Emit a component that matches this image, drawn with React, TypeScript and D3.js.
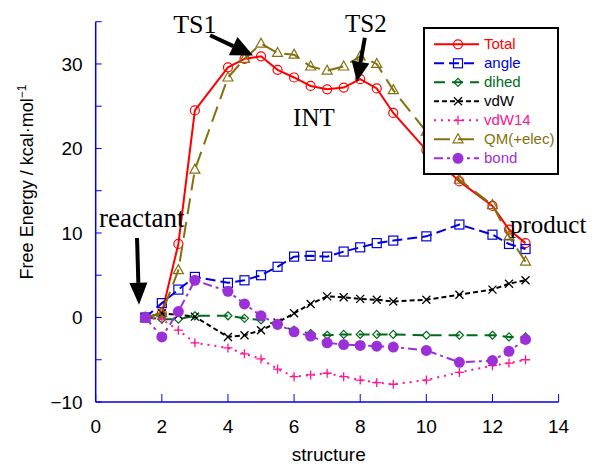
import { useEffect, useRef } from 'react';
import * as d3 from 'd3';

// structure coordinate of each point
const structures = [1.5, 2, 2.5, 3, 4, 4.5, 5, 5.5, 6, 6.5, 7, 7.5, 8, 8.5, 9, 10, 11, 12, 12.5, 13];

const total = [0, 0.5, 8.7, 24.5, 29.6, 30.6, 30.9, 29.3, 28.4, 27.4, 27.0, 27.2, 28.2, 27.1, 24.2, 19.8, 16.1, 13.2, 10.4, 8.8];
const angle = [0, 1.7, 3.3, 4.8, 4.1, 4.4, 5.0, 6.0, 7.2, 7.3, 7.2, 7.8, 8.3, 8.8, 9.1, 9.6, 11.0, 9.8, 8.7, 8.1];
const dihed = [0, -0.2, -0.2, 0.2, 0.2, -0.1, -0.3, -0.9, -1.5, -1.9, -2.1, -2.0, -2.0, -2.0, -2.0, -2.1, -2.1, -2.1, -2.3, -2.3];
const vdw = [0, 0.5, 0.3, 0.1, -2.3, -2.1, -1.5, -0.6, 0.5, 1.6, 2.5, 2.4, 2.2, 2.1, 1.9, 2.1, 2.7, 3.3, 4.0, 4.4];
const vdw14 = [0, -0.2, -1.5, -3.0, -3.6, -4.3, -4.9, -6.1, -7.0, -6.8, -6.6, -7.0, -7.4, -7.7, -7.9, -7.4, -6.5, -5.7, -5.4, -5.0];
const qm = [0, 0.5, 5.6, 17.5, 28.4, 30.6, 32.4, 31.3, 31.1, 29.7, 29.2, 29.7, 30.9, 30.0, 26.9, 22.0, 16.3, 13.3, 9.6, 6.6];
const bond = [0, -2.3, 0.7, 4.4, 3.1, 1.6, 0.2, -0.8, -1.7, -2.2, -3.0, -3.2, -3.3, -3.4, -3.5, -3.9, -5.3, -5.1, -4.0, -2.6];

const seriesNames = ['Total', 'angle', 'dihed', 'vdW', 'vdW14', 'QM(+elec)', 'bond'];
const seriesValues = [total, angle, dihed, vdw, vdw14, qm, bond];

const xTicks = [0, 2, 4, 6, 8, 10, 12, 14];
const yTickLabels = [-10, 0, 10, 20, 30];
const yTickMarks = [-10, -5, 0, 5, 10, 15, 20, 25, 30, 35];

const styles = {
  Total: { color: '#ff0000', dash: null, width: 2, marker: 'circle' },
  angle: { color: '#0000dd', dash: '10,5', width: 2, marker: 'square' },
  dihed: { color: '#006a1a', dash: '11,7', width: 2, marker: 'diamond' },
  vdW: { color: '#000000', dash: '5,3', width: 2, marker: 'x' },
  vdW14: { color: '#ff1493', dash: '2,5', width: 2, marker: 'plus' },
  'QM(+elec)': { color: '#857010', dash: '16,8', width: 2, marker: 'triangle' },
  bond: { color: '#9b30d9', dash: '9,4,3,4', width: 2, marker: 'dot' },
};

const sans = '"Liberation Sans", Arial, sans-serif';
const serif = '"Liberation Serif", "Times New Roman", serif';

function drawMarker(g, kind, cx, cy, color) {
  if (kind === 'circle') {
    g.append('circle').attr('cx', cx).attr('cy', cy).attr('r', 4.5)
      .attr('fill', 'none').attr('stroke', color).attr('stroke-width', 1.2);
  } else if (kind === 'square') {
    g.append('rect').attr('x', cx - 4.5).attr('y', cy - 4.5).attr('width', 9).attr('height', 9)
      .attr('fill', 'none').attr('stroke', color).attr('stroke-width', 1.2);
  } else if (kind === 'diamond') {
    g.append('path').attr('d', `M${cx},${cy - 4}L${cx + 4},${cy}L${cx},${cy + 4}L${cx - 4},${cy}Z`)
      .attr('fill', 'none').attr('stroke', color).attr('stroke-width', 1.2);
  } else if (kind === 'x') {
    g.append('path').attr('d', `M${cx - 4},${cy - 4}L${cx + 4},${cy + 4}M${cx - 4},${cy + 4}L${cx + 4},${cy - 4}`)
      .attr('stroke', color).attr('stroke-width', 1.3);
  } else if (kind === 'plus') {
    g.append('path').attr('d', `M${cx - 4.5},${cy}L${cx + 4.5},${cy}M${cx},${cy - 4.5}L${cx},${cy + 4.5}`)
      .attr('stroke', color).attr('stroke-width', 1.3);
  } else if (kind === 'triangle') {
    g.append('path').attr('d', `M${cx},${cy - 5.5}L${cx + 5},${cy + 3.5}L${cx - 5},${cy + 3.5}Z`)
      .attr('fill', 'none').attr('stroke', color).attr('stroke-width', 1.2);
  } else if (kind === 'dot') {
    g.append('circle').attr('cx', cx).attr('cy', cy).attr('r', 5.5).attr('fill', color);
  }
}

function drawArrow(svg, x1, y1, x2, y2, headLen, headW) {
  const dx = x2 - x1;
  const dy = y2 - y1;
  const len = Math.sqrt(dx * dx + dy * dy);
  const ux = dx / len;
  const uy = dy / len;
  const bx = x2 - ux * headLen;
  const by = y2 - uy * headLen;
  svg.append('line').attr('x1', x1).attr('y1', y1).attr('x2', bx).attr('y2', by)
    .attr('stroke', '#000').attr('stroke-width', 4);
  svg.append('path')
    .attr('d', `M${x2},${y2}L${bx - uy * headW / 2},${by + ux * headW / 2}L${bx + uy * headW / 2},${by - ux * headW / 2}Z`)
    .attr('fill', '#000');
}

const App = () => {
  const svgRef = useRef();

  useEffect(() => {
    const svg = d3.select(svgRef.current);
    svg.selectAll('*').remove();

    const xScale = d3.scaleLinear().domain([0, 14]).range([95.7, 558.6]);
    const yScale = d3.scaleLinear().domain([-10, 35]).range([402, 21.7]);

    // Axes (left and bottom only, ticks pointing inward)
    const axisColor = '#0000ee';
    svg.append('line')
      .attr('x1', xScale(0)).attr('x2', xScale(0))
      .attr('y1', yScale(35)).attr('y2', yScale(-10))
      .attr('stroke', axisColor).attr('stroke-width', 1.5);
    svg.append('line')
      .attr('x1', xScale(0)).attr('x2', xScale(14))
      .attr('y1', yScale(-10)).attr('y2', yScale(-10))
      .attr('stroke', axisColor).attr('stroke-width', 1.5);

    yTickMarks.forEach((v) => {
      svg.append('line')
        .attr('x1', xScale(0)).attr('x2', xScale(0) + 6)
        .attr('y1', yScale(v)).attr('y2', yScale(v))
        .attr('stroke', axisColor).attr('stroke-width', 1);
    });
    xTicks.forEach((v) => {
      svg.append('line')
        .attr('x1', xScale(v)).attr('x2', xScale(v))
        .attr('y1', yScale(-10)).attr('y2', yScale(-10) - 8)
        .attr('stroke', axisColor).attr('stroke-width', 1);
    });

    yTickLabels.forEach((v) => {
      svg.append('text')
        .attr('x', xScale(0) - 13).attr('y', yScale(v) + 7)
        .attr('text-anchor', 'end')
        .attr('font-family', sans).attr('font-size', 19)
        .attr('fill', '#000')
        .text(v < 0 ? `\u2212${Math.abs(v)}` : `${v}`);
    });
    xTicks.forEach((v) => {
      svg.append('text')
        .attr('x', xScale(v)).attr('y', yScale(-10) + 31)
        .attr('text-anchor', 'middle')
        .attr('font-family', sans).attr('font-size', 19)
        .attr('fill', '#000')
        .text(v);
    });

    svg.append('text')
      .attr('x', xScale(7.05)).attr('y', 461)
      .attr('text-anchor', 'middle')
      .attr('font-family', sans).attr('font-size', 19)
      .attr('fill', '#000')
      .text('structure');

    const yLabel = svg.append('text')
      .attr('transform', `translate(33, 182) rotate(-90)`)
      .attr('text-anchor', 'middle')
      .attr('font-family', sans).attr('font-size', 18)
      .attr('fill', '#000');
    yLabel.append('tspan').text('Free Energy  /  kcal\u00b7mol');
    yLabel.append('tspan').attr('dy', -7).attr('font-size', 12).text('\u22121');

    // Lines
    const line = d3.line()
      .x((d) => xScale(d[0]))
      .y((d) => yScale(d[1]));

    seriesNames.forEach((name, i) => {
      const st = styles[name];
      const pts = structures.map((s, j) => [s, seriesValues[i][j]]);
      svg.append('path')
        .datum(pts)
        .attr('fill', 'none')
        .attr('stroke', st.color)
        .attr('stroke-width', st.width)
        .attr('stroke-dasharray', st.dash)
        .attr('d', line);
      const g = svg.append('g');
      pts.forEach((p) => drawMarker(g, st.marker, xScale(p[0]), yScale(p[1]), st.color));
    });

    // Annotations
    const addLabel = (txt, x, y, anchor, size) => {
      svg.append('text')
        .attr('x', xScale(x)).attr('y', yScale(y))
        .attr('text-anchor', anchor)
        .attr('font-family', serif).attr('font-size', size)
        .attr('fill', '#000')
        .text(txt);
    };
    addLabel('TS1', 3.0, 33.7, 'middle', 26);
    addLabel('TS2', 8.17, 33.8, 'middle', 25);
    addLabel('INT', 6.6, 22.7, 'middle', 25);
    addLabel('reactant', 0.1, 10.7, 'start', 27);
    addLabel('product', 12.53, 10.0, 'start', 25);

    drawArrow(svg, xScale(3.46), yScale(33.4), xScale(4.76), yScale(31.0), 22, 20);
    drawArrow(svg, xScale(8.14), yScale(33.1), xScale(7.9), yScale(27.9), 20, 18);
    drawArrow(svg, xScale(1.25), yScale(9.4), xScale(1.31), yScale(1.5), 22, 18);

    // Legend
    const legend = svg.append('g');
    legend.append('rect')
      .attr('x', 424).attr('y', 28).attr('width', 134).attr('height', 146)
      .attr('fill', '#fff').attr('stroke', '#000').attr('stroke-width', 2);
    seriesNames.forEach((name, i) => {
      const st = styles[name];
      const cy = 44.3 + i * 19;
      legend.append('line')
        .attr('x1', 434).attr('x2', 479)
        .attr('y1', cy).attr('y2', cy)
        .attr('stroke', st.color).attr('stroke-width', st.width)
        .attr('stroke-dasharray', st.dash);
      drawMarker(legend, st.marker, 458, cy, st.color);
      legend.append('text')
        .attr('x', 484).attr('y', cy + 5)
        .attr('font-family', sans).attr('font-size', 15)
        .attr('fill', st.color)
        .text(name);
    });
  }, []);

  return (
    <div style={{ position: 'absolute', left: 0, top: 0 }}>
      <svg ref={svgRef} width={596} height={466} style={{ display: 'block', background: '#fff' }}></svg>
    </div>
  );
};

export default App;
